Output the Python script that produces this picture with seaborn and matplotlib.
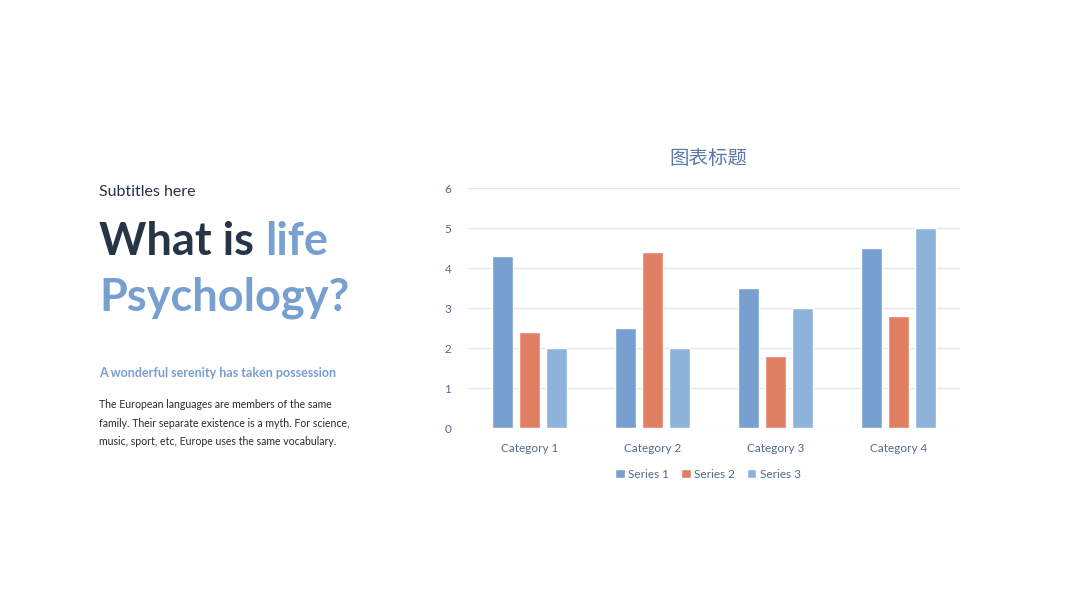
import pandas as pd
import seaborn as sns
import matplotlib.pyplot as plt

# ---- chart data ----
categories = ["Category 1", "Category 2", "Category 3", "Category 4"]
series_names = ["Series 1", "Series 2", "Series 3"]
series_1 = [4.3, 2.5, 3.5, 4.5]
series_2 = [2.4, 4.4, 1.8, 2.8]
series_3 = [2.0, 2.0, 3.0, 5.0]
y_ticks = [0, 1, 2, 3, 4, 5, 6]
# --------------------

colors = ["#779fcf", "#e07f62", "#8db3db"]
dark = "#253446"
blue = "#779fcf"
axis_txt = "#4f6a8d"

sns.set_theme(style="white")
plt.rcParams['font.family'] = ['Lato', 'Noto Sans CJK SC', 'DejaVu Sans']

rows = []
for name, vals in zip(series_names, [series_1, series_2, series_3]):
    for cat, v in zip(categories, vals):
        rows.append({"category": cat, "series": name, "value": v})
df = pd.DataFrame(rows)

fig = plt.figure(figsize=(10.8, 6.08), dpi=100)
ax = fig.add_axes([0.4333, 0.296, 0.4556, 0.3947])

sns.barplot(data=df, x="category", y="value", hue="series", palette=colors,
            width=0.66, gap=0.2, saturation=1, ax=ax)

ax.set_ylim(0, 6)
ax.set_yticks(y_ticks)
ax.yaxis.grid(True, color="#e3e7ec", linewidth=1)
ax.set_axisbelow(True)
for s in ["top", "right", "left", "bottom"]:
    ax.spines[s].set_visible(False)
ax.set_xlabel("")
ax.set_ylabel("")
ax.tick_params(axis="both", length=0, colors=axis_txt, labelsize=8.5)
ax.tick_params(axis="y", pad=12)
ax.tick_params(axis="x", pad=11)
ax.set_title("图表标题", fontsize=14, color="#5a7aa6", pad=17, x=0.488,
             family=['Noto Sans CJK SC', 'DejaVu Sans'])

leg = ax.legend(loc="upper center", bbox_to_anchor=(0.488, -0.125), ncol=3, frameon=False,
                fontsize=8.5, handlelength=0.8, handleheight=0.8, handletextpad=0.3,
                columnspacing=1.0)
for t in leg.get_texts():
    t.set_color(axis_txt)

# ---- left text block ----
fig.text(99 / 1080, 1 - 192 / 608, "Subtitles here", fontsize=11.5, color=dark, va="center")
t1 = fig.text(99 / 1080, 1 - 242 / 608, "What is ", fontsize=32.5, fontweight="bold",
              color=dark, va="center")
fig.canvas.draw()
bb = t1.get_window_extent(fig.canvas.get_renderer())
fig.text(bb.x1 / 1080, 1 - 242 / 608, "life", fontsize=32.5, fontweight="bold",
         color=blue, va="center")
fig.text(99 / 1080, 1 - 298 / 608, "Psychology?", fontsize=32.5, fontweight="bold",
         color=blue, va="center")
fig.text(99 / 1080, 1 - 373 / 608, "A wonderful serenity has taken possession",
         fontsize=9, fontweight="bold", color=blue, va="center")
fig.text(99 / 1080, 1 - 399 / 608,
         "The European languages are members of the same\n"
         "family. Their separate existence is a myth. For science,\n"
         "music, sport, etc, Europe uses the same vocabulary.",
         fontsize=7.6, color="#2b2b2b", va="top", linespacing=1.85)

fig.savefig("out.png", dpi=100)
